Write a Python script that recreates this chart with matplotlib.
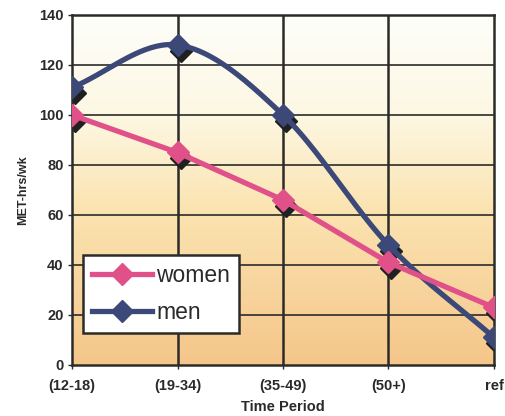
import matplotlib
matplotlib.use('Agg')
import matplotlib.pyplot as plt
import matplotlib.transforms as mtransforms
from matplotlib.colors import LinearSegmentedColormap
import numpy as np

periods = ['(12-18)', '(19-34)', '(35-49)', '(50+)', 'ref']
women = [100, 85, 66, 41, 23]
men = [111, 128, 100, 48, 11]

pink = '#e0518a'
navy = '#3c4877'
dark = '#2b2b28'


def smooth(xs, ys, n=40):
	# catmull-rom curve through the points, only for drawing
	xs = np.asarray(xs, float)
	ys = np.asarray(ys, float)
	px = np.concatenate([[2 * xs[0] - xs[1]], xs, [2 * xs[-1] - xs[-2]]])
	py = np.concatenate([[2 * ys[0] - ys[1]], ys, [2 * ys[-1] - ys[-2]]])
	outx, outy = [], []
	t = np.linspace(0, 1, n)
	for i in range(1, len(px) - 2):
		for p, out in ((px, outx), (py, outy)):
			p0, p1, p2, p3 = p[i - 1], p[i], p[i + 1], p[i + 2]
			out.extend(0.5 * ((2 * p1) + (-p0 + p2) * t + (2 * p0 - 5 * p1 + 4 * p2 - p3) * t ** 2
							  + (-p0 + 3 * p1 - 3 * p2 + p3) * t ** 3))
	return outx, outy


plt.rcParams['font.family'] = ['Liberation Sans', 'DejaVu Sans']

fig = plt.figure(figsize=(5.05, 4.16), dpi=100)
fig.patch.set_facecolor('white')
ax = fig.add_axes([0.1426, 0.1226, 0.8356, 0.8414])

x = np.arange(len(periods))
ax.set_xlim(0, len(periods) - 1)
ax.set_ylim(0, 140)

# gradient background
cmap = LinearSegmentedColormap.from_list('bg', [(0, '#f5c68a'), (0.45, '#fbe4b2'), (0.72, '#fdf8e4'), (1, '#fefefa')])
grad = np.linspace(0, 1, 256).reshape(-1, 1)
ax.imshow(grad, aspect='auto', cmap=cmap, origin='lower', extent=[0, len(periods) - 1, 0, 140], zorder=0)

for yv in range(20, 140, 20):
	ax.axhline(yv, color=dark, lw=1.2, zorder=1)
for xv in x[1:-1]:
	ax.axvline(xv, color=dark, lw=1.8, zorder=1)

shadow = mtransforms.offset_copy(ax.transData, fig=fig, x=3, y=-6, units='dots')

sx, sy = smooth(x, men)
ax.plot(x, men, 'D', color='#1f2020', ms=11, transform=shadow, zorder=2)
ax.plot(x, women, 'D', color='#1f2020', ms=11, transform=shadow, zorder=2)
ax.plot(sx, sy, color=navy, lw=3.8, zorder=3, solid_capstyle='round')
ax.plot(x, men, 'D', color=navy, ms=11, zorder=4)
ax.plot(x, women, '-D', color=pink, lw=3.8, ms=11, zorder=5)

h1, = ax.plot([], [], '-D', color=pink, lw=3.8, ms=11, label='women')
h2, = ax.plot([], [], '-D', color=navy, lw=3.8, ms=11, label='men')
leg = ax.legend(handles=[h1, h2], loc='upper left', bbox_to_anchor=(0.026, 0.314), borderaxespad=0,
				fontsize=16.5, frameon=True, fancybox=False, handlelength=2.6, handletextpad=0.2,
				labelspacing=0.6, borderpad=0.4, framealpha=1)
leg.get_frame().set_edgecolor(dark)
leg.get_frame().set_linewidth(1.8)
leg.set_zorder(10)
for t in leg.get_texts():
	t.set_color('#2a2a2a')

ax.set_xticks(x)
ax.set_xticklabels(periods, fontsize=10.5, fontweight='bold', color='#2a2a2a')
ax.set_yticks(range(0, 141, 20))
ax.tick_params(axis='y', labelsize=10.5, length=3, width=1, colors='#2a2a2a', pad=3)
ax.tick_params(axis='x', length=3, width=1, colors='#2a2a2a', pad=7)
for lab in ax.get_yticklabels():
	lab.set_fontweight('bold')
ax.set_ylabel('MET-hrs/wk', fontsize=9, fontweight='bold', labelpad=7, color='#2a2a2a')
ax.set_xlabel('Time Period', fontsize=10.5, fontweight='bold', labelpad=5, color='#2a2a2a')

for s in ax.spines.values():
	s.set_color(dark)
	s.set_linewidth(1.8)

plt.savefig('out.png', dpi=100)
plt.close()
